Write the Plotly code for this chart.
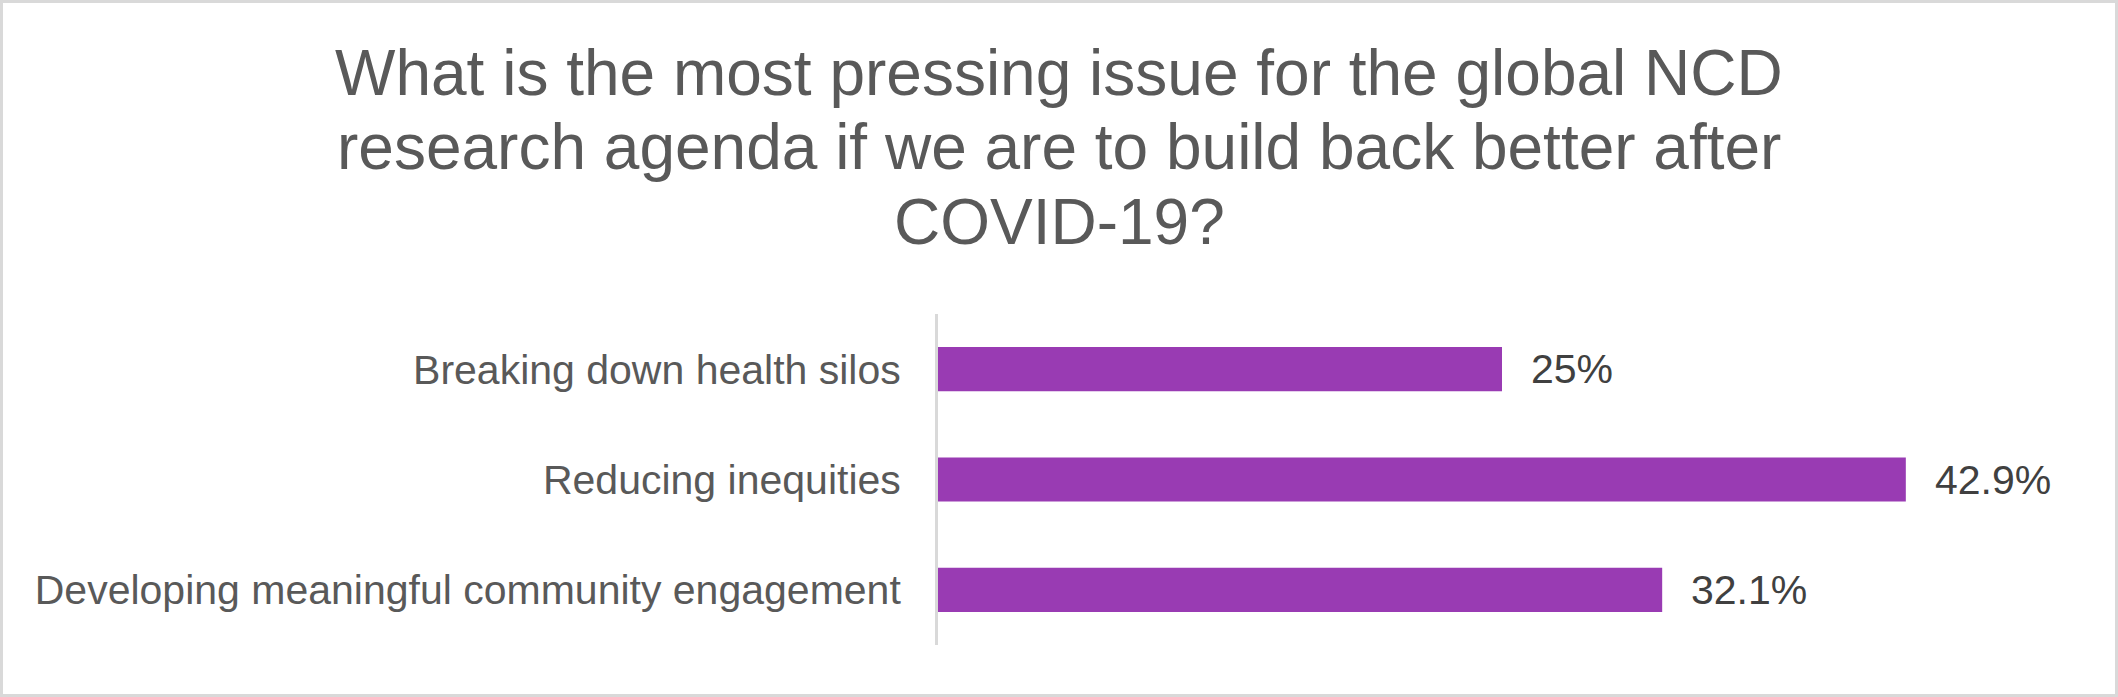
import plotly.graph_objects as go

# chart data
title_lines = [
    "What is the most pressing issue for the global NCD",
    "research agenda if we are to build back better after",
    "COVID-19?",
]
categories = [
    "Breaking down health silos",
    "Reducing inequities",
    "Developing meaningful community engagement",
]
shares = [25, 42.9, 32.1]

W, H = 2118, 697
L, R, T, B = 938, 52, 314, 52
pw, ph = W - L - R, H - T - B

FONT = "Liberation Sans, Arial, sans-serif"
BAR = "#993BB3"
GREY = "#595959"
BORDER = "#D9D9D9"


def px_y(y):
    # pixel row from top -> paper y
    return 1 + (T - y) / ph


def px_x(x):
    return (x - L) / pw


fig = go.Figure()

fig.add_trace(
    go.Bar(
        x=shares,
        y=categories,
        orientation="h",
        marker_color=BAR,
        marker_line_width=0,
        hoverinfo="skip",
    )
)

# data labels next to the bars
for cat, val in zip(categories, shares):
    fig.add_annotation(
        x=val, y=cat, xref="x", yref="y",
        text=f"{val:g}%",
        showarrow=False,
        xanchor="left", yanchor="middle",
        xshift=27,
        font=dict(family=FONT, size=41, color="#404040"),
    )

# title, one annotation per line to keep Excel-like line spacing
for i, line in enumerate(title_lines):
    fig.add_annotation(
        x=0.5 * (px_x(0) + px_x(W)), y=px_y(73 + 74.5 * i),
        xref="paper", yref="paper",
        text=line,
        showarrow=False,
        xanchor="center", yanchor="middle",
        font=dict(family=FONT, size=64, color=GREY),
    )

# outer border of the chart area
fig.add_shape(
    type="rect", xref="paper", yref="paper",
    x0=px_x(1.5), x1=px_x(W - 1.5),
    y0=px_y(H - 1.5), y1=px_y(1.5),
    line=dict(color=BORDER, width=3),
    fillcolor="rgba(0,0,0,0)",
    layer="below",
)

fig.update_layout(
    width=W,
    height=H,
    margin=dict(l=L, r=R, t=T, b=B, autoexpand=False),
    paper_bgcolor="white",
    plot_bgcolor="white",
    showlegend=False,
    bargap=0.6,
    font=dict(family=FONT, size=41, color=GREY),
    xaxis=dict(
        range=[0, 50],
        visible=False,
        showgrid=False,
        zeroline=False,
        fixedrange=True,
    ),
    yaxis=dict(
        range=[2.5, -0.5],
        showgrid=False,
        zeroline=False,
        showline=True,
        linecolor=BORDER,
        linewidth=3,
        ticks="",
        ticklabelstandoff=26,
        tickfont=dict(family=FONT, size=41, color=GREY),
        fixedrange=True,
    ),
)

fig.write_html(
    "out.html",
    config={"displayModeBar": False},
    post_script="document.body.style.margin='0';document.body.style.overflow='hidden';",
)
